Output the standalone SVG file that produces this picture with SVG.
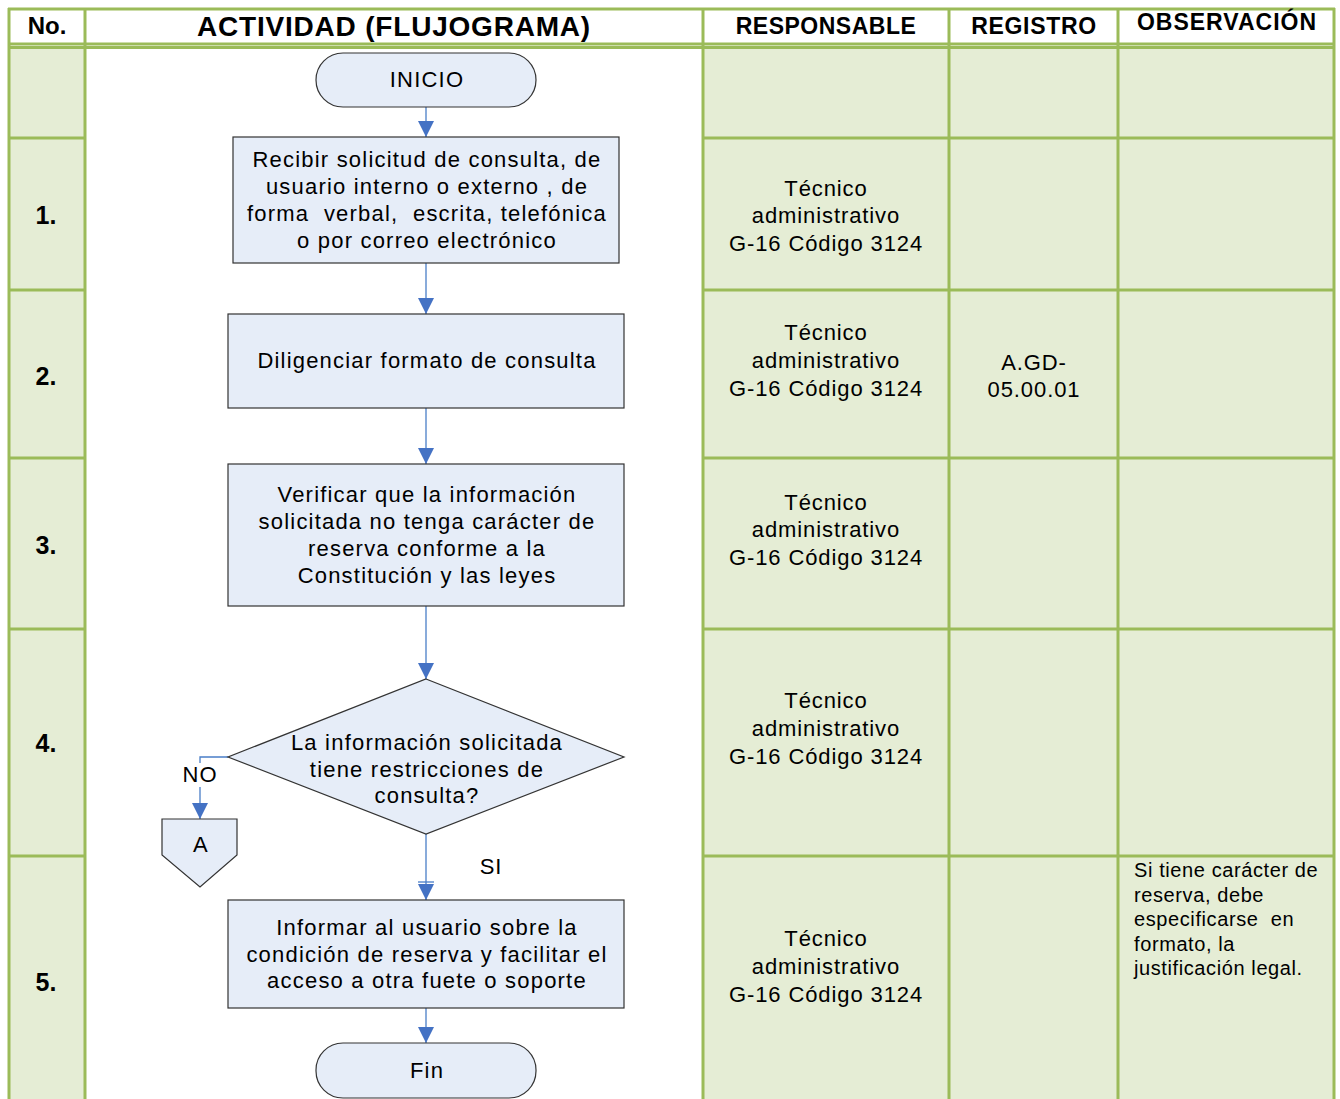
<svg xmlns="http://www.w3.org/2000/svg" width="1340" height="1099" viewBox="0 0 1340 1099">
<defs>
<style>
.grid{stroke:#9BBB59;stroke-width:3;fill:none}
.cell{fill:#E5EDD5}
.hd{font-family:"Liberation Sans",Arial,sans-serif;font-weight:bold;fill:#000;text-anchor:middle}
.t{font-family:"Liberation Sans",Arial,sans-serif;fill:#000;text-anchor:middle;font-size:22px;letter-spacing:1.2px;white-space:pre}
.r{font-family:"Liberation Sans",Arial,sans-serif;fill:#000;text-anchor:middle;font-size:22px;letter-spacing:0.9px}
.num{font-family:"Liberation Sans",Arial,sans-serif;font-weight:bold;font-size:25px;fill:#000;text-anchor:middle}
.obs{font-family:"Liberation Sans",Arial,sans-serif;font-size:20px;fill:#000;letter-spacing:0.6px;white-space:pre}
.shape{fill:#E6EDF8;stroke:#333;stroke-width:1.2}
.conn{stroke:#4A7EC7;stroke-width:1.3;fill:none}
</style>
<marker id="arr" viewBox="0 0 10 10" refX="10" refY="5" markerWidth="16" markerHeight="16" markerUnits="userSpaceOnUse" orient="auto">
<path d="M0,0 L10,5 L0,10 Z" fill="#4472C4"/>
</marker>
</defs>
<rect width="1340" height="1099" fill="#fff"/>
<g id="table">
<rect class="cell" x="8" y="47" width="77" height="1052"/>
<rect class="cell" x="703" y="47" width="632" height="1052"/>
<path class="grid" d="M8,9 H1335 M8,44 H1335 M8,47.5 H1335 M8,138 H85 M703,138 H1335 M8,290 H85 M703,290 H1335 M8,458 H85 M703,458 H1335 M8,629 H85 M703,629 H1335 M8,856 H85 M703,856 H1335 M9,8 V1099 M85,8 V1099 M703,8 V1099 M949,8 V1099 M1118,8 V1099 M1334,8 V1099"/>
<text class="hd" x="47" y="34" font-size="24">No.</text>
<text class="hd" x="394" y="36" font-size="28" letter-spacing="0.8">ACTIVIDAD (FLUJOGRAMA)</text>
<text class="hd" x="826" y="34" font-size="23" letter-spacing="0.5">RESPONSABLE</text>
<text class="hd" x="1034" y="34" font-size="23" letter-spacing="0.7">REGISTRO</text>
<text class="hd" x="1227" y="30" font-size="23" letter-spacing="1">OBSERVACIÓN</text>
<text class="num" x="46" y="224">1.</text>
<text class="num" x="46" y="385">2.</text>
<text class="num" x="46" y="554">3.</text>
<text class="num" x="46" y="752">4.</text>
<text class="num" x="46" y="991">5.</text>
<text class="r" x="826" y="196">Técnico</text>
<text class="r" x="826" y="223">administrativo</text>
<text class="r" x="826" y="251">G-16 Código 3124</text>
<text class="r" x="826" y="340">Técnico</text>
<text class="r" x="826" y="368">administrativo</text>
<text class="r" x="826" y="396">G-16 Código 3124</text>
<text class="r" x="1034" y="370">A.GD-</text>
<text class="r" x="1034" y="397">05.00.01</text>
<text class="r" x="826" y="510">Técnico</text>
<text class="r" x="826" y="537">administrativo</text>
<text class="r" x="826" y="565">G-16 Código 3124</text>
<text class="r" x="826" y="708">Técnico</text>
<text class="r" x="826" y="736">administrativo</text>
<text class="r" x="826" y="764">G-16 Código 3124</text>
<text class="r" x="826" y="946">Técnico</text>
<text class="r" x="826" y="974">administrativo</text>
<text class="r" x="826" y="1002">G-16 Código 3124</text>
<text class="obs" x="1134" y="877">Si tiene carácter de</text>
<text class="obs" x="1134" y="902">reserva, debe</text>
<text class="obs" x="1134" y="926" xml:space="preserve">especificarse  en</text>
<text class="obs" x="1134" y="951">formato, la</text>
<text class="obs" x="1134" y="975">justificación legal.</text>
</g>
<g id="connectors">
<path class="conn" d="M426,107 V137" marker-end="url(#arr)"/>
<path class="conn" d="M426,263 V314" marker-end="url(#arr)"/>
<path class="conn" d="M426,408 V464" marker-end="url(#arr)"/>
<path class="conn" d="M426,606 V679" marker-end="url(#arr)"/>
<path class="conn" d="M426,834 V900" marker-end="url(#arr)"/>
<path class="conn" d="M418,882 H434"/>
<path class="conn" d="M228,757 H200 V819" marker-end="url(#arr)"/>
<path class="conn" d="M426,1008 V1043" marker-end="url(#arr)"/>
<rect x="180" y="763" width="40" height="24" fill="#fff"/>
<text class="r" x="200" y="782">NO</text>
<text class="r" x="491" y="874">SI</text>
</g>
<g id="inicio">
<rect class="shape" x="316" y="53" width="220" height="54" rx="27"/>
<text class="t" x="427" y="87">INICIO</text>
</g>
<g id="paso1">
<rect class="shape" x="233" y="137" width="386" height="126"/>
<text class="t" x="427" y="167">Recibir solicitud de consulta, de</text>
<text class="t" x="427" y="194">usuario interno o externo , de</text>
<text class="t" x="427" y="221" xml:space="preserve">forma  verbal,  escrita, telefónica</text>
<text class="t" x="427" y="248">o por correo electrónico</text>
</g>
<g id="paso2">
<rect class="shape" x="228" y="314" width="396" height="94"/>
<text class="t" x="427" y="368">Diligenciar formato de consulta</text>
</g>
<g id="paso3">
<rect class="shape" x="228" y="464" width="396" height="142"/>
<text class="t" x="427" y="502">Verificar que la información</text>
<text class="t" x="427" y="529">solicitada no tenga carácter de</text>
<text class="t" x="427" y="556">reserva conforme a la</text>
<text class="t" x="427" y="583">Constitución y las leyes</text>
</g>
<g id="decision">
<path class="shape" d="M426,679 L624,757 L426,834 L228,757 Z"/>
<text class="t" x="427" y="750">La información solicitada</text>
<text class="t" x="427" y="777">tiene restricciones de</text>
<text class="t" x="427" y="803">consulta?</text>
</g>
<g id="conectorA">
<path class="shape" d="M162,819 H237 V855 L200,887 L162,855 Z"/>
<text class="t" x="201" y="852">A</text>
</g>
<g id="paso5">
<rect class="shape" x="228" y="900" width="396" height="108"/>
<text class="t" x="427" y="935">Informar al usuario sobre la</text>
<text class="t" x="427" y="962">condición de reserva y facilitar el</text>
<text class="t" x="427" y="988">acceso a otra fuete o soporte</text>
</g>
<g id="fin">
<rect class="shape" x="316" y="1043" width="220" height="55" rx="27"/>
<text class="t" x="427" y="1078">Fin</text>
</g>
</svg>
